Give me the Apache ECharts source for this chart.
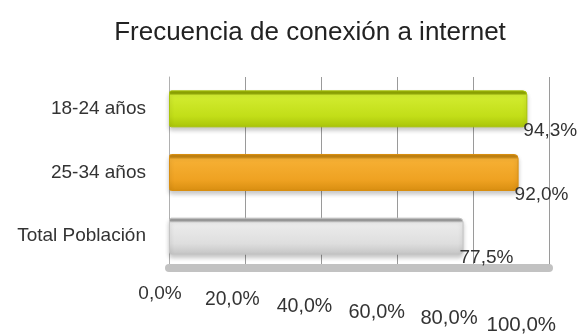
<!DOCTYPE html>
<html>
<head>
<meta charset="utf-8">
<script src="https://cdn.jsdelivr.net/npm/echarts@6/dist/echarts.min.js"></script>
<style>
html,body{margin:0;padding:0;background:#fff;}
#chart{width:582px;height:336px;}
</style>
</head>
<body>
<div id="chart"></div>
<script>
var titleText = 'Frecuencia de conexión a internet';
var categories = ['Total Población', '25-34 años', '18-24 años'];
var values = [0.775, 0.920, 0.943];
var barColors = [
  ['#9c9c9c', '#ececec', '#dedede', '#c4c4c4'],
  ['#c48412', '#f6b034', '#efa222', '#d88e10'],
  ['#8ea404', '#d2ec30', '#c2de18', '#a9c40a']
];
var tickValues = [0, 0.2, 0.4, 0.6, 0.8, 1.0];

function pct(v) {
  return (v * 100).toFixed(1).replace('.', ',') + '%';
}

// perspective-like styles for the tick labels (shift left/down, grow slightly)
var tickRich = {};
tickValues.forEach(function (t, i) {
  tickRich['t' + i] = {
    fontFamily: 'Liberation Sans, Arial, sans-serif',
    fontSize: 19 + i * 0.3,
    color: '#333',
    padding: [i * 6.2, 18 + i * 7.5, 0, 0]
  };
});

var chart = echarts.init(document.getElementById('chart'), null, {renderer: 'canvas'});
chart.setOption({
  animation: false,
  backgroundColor: '#ffffff',
  title: {
    text: titleText,
    left: 305,
    textAlign: 'center',
    top: 15,
    textStyle: {
      fontFamily: 'Liberation Sans, Arial, sans-serif',
      fontSize: 26,
      fontWeight: 'normal',
      color: '#222'
    }
  },
  grid: {
    left: 169,
    right: 33,
    top: 77,
    bottom: 60
  },
  xAxis: {
    type: 'value',
    min: tickValues[0],
    max: tickValues[tickValues.length - 1],
    interval: 0.2,
    axisLine: {show: true, onZero: false, lineStyle: {color: '#c2c2c2', width: 8}},
    axisTick: {show: false},
    splitLine: {show: true, lineStyle: {color: '#9a9a9a', width: 1}},
    axisLabel: {
      margin: 16,
      formatter: function (v) {
        var i = Math.round(v / 0.2);
        return '{t' + i + '|' + pct(v) + '}';
      },
      rich: tickRich
    }
  },
  yAxis: {
    type: 'category',
    data: categories,
    axisLine: {show: true, lineStyle: {color: '#b0b0b0'}},
    axisTick: {show: false},
    axisLabel: {
      margin: 23,
      padding: [0, 0, 12, 0],
      fontFamily: 'Liberation Sans, Arial, sans-serif',
      fontSize: 19,
      color: '#333'
    }
  },
  series: [{
    type: 'bar',
    barWidth: 37,
    data: values.map(function (v, i) {
      return {
        value: v,
        itemStyle: {
          color: new echarts.graphic.LinearGradient(0, 0, 0, 1, [
            {offset: 0, color: barColors[i][0]},
            {offset: 0.08, color: barColors[i][0]},
            {offset: 0.14, color: barColors[i][1]},
            {offset: 0.7, color: barColors[i][2]},
            {offset: 1, color: barColors[i][3]}
          ]),
          borderColor: barColors[i][3],
          borderWidth: 1,
          borderRadius: [2, 4, 4, 2],
          shadowColor: 'rgba(0,0,0,0.22)',
          shadowBlur: 4,
          shadowOffsetY: 3
        }
      };
    }),
    label: {
      show: true,
      position: 'right',
      offset: [-6, 22],
      distance: 2,
      fontFamily: 'Liberation Sans, Arial, sans-serif',
      fontSize: 19,
      color: '#333',
      formatter: function (p) { return pct(p.value); }
    }
  }]
});
</script>
</body>
</html>
